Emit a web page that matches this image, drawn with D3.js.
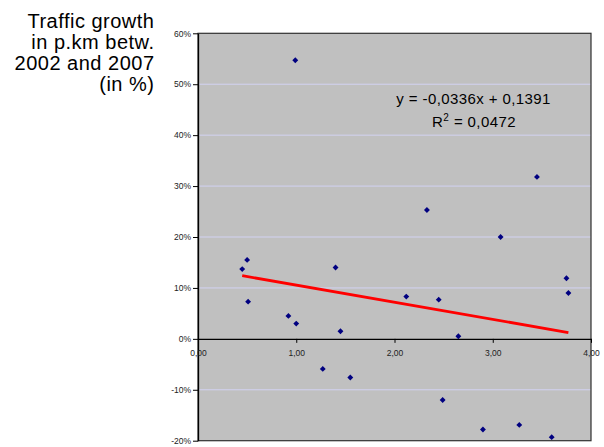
<!DOCTYPE html>
<html>
<head>
<meta charset="utf-8">
<script src="https://cdn.jsdelivr.net/npm/d3@7"></script>
<style>
  html, body { margin: 0; padding: 0; background: #ffffff; }
  svg { display: block; }
  text { font-family: Arial, "Liberation Sans", sans-serif; }
</style>
</head>
<body>
<svg id="chart" width="604" height="447"></svg>
<script>
// Line density (x) against traffic growth 2002-2007 (y, as a fraction)
const densityValues = [0.45, 0.50, 0.51, 0.92, 0.99, 1.00, 1.27, 1.40, 1.45, 1.55, 2.12,
                       2.33, 2.45, 2.49, 2.65, 2.90, 3.08, 3.27, 3.45, 3.60, 3.75, 3.77];
const growthValues  = [0.137, 0.155, 0.073, 0.045, 0.547, 0.030, -0.059, 0.140, 0.015, -0.076, 0.083,
                       0.253, 0.077, -0.120, 0.005, -0.178, 0.200, -0.169, 0.318, -0.193, 0.119, 0.090];

// Linear trend shown on the chart
const trendSlope = -0.0336;
const trendIntercept = 0.1391;
const trendR2 = 0.0472;

const xTicks = [0, 1, 2, 3, 4];
const yTicks = [-0.2, -0.1, 0, 0.1, 0.2, 0.3, 0.4, 0.5, 0.6];
const titleLines = ["Traffic growth", "in p.km betw.", "2002 and 2007", "(in %)"];

const svg = d3.select("#chart");

const plotLeft = 198, plotRight = 591, plotTop = 33.3, plotBottom = 440.7;
const x = d3.scaleLinear().domain([0, 4]).range([plotLeft, plotRight]);
const y = d3.scaleLinear().domain([-0.2, 0.6]).range([plotBottom, plotTop]);

// Comma decimals and a plain hyphen for negatives
const locale = d3.formatLocale({ decimal: ",", thousands: ".", grouping: [3], currency: ["", " €"], minus: "-" });
const fmtX = locale.format(".2f");
const fmtY = locale.format(".0%");
const fmtCoef = v => locale.format(".4f")(v);

// Plot area
svg.append("rect")
  .attr("x", plotLeft).attr("y", plotTop)
  .attr("width", plotRight - plotLeft).attr("height", plotBottom - plotTop)
  .attr("fill", "#c0c0c0");

// Horizontal gridlines
svg.append("g")
  .selectAll("line")
  .data(yTicks.filter(t => t !== 0 && t !== 0.6 && t !== -0.2))
  .join("line")
  .attr("x1", plotLeft).attr("x2", plotRight)
  .attr("y1", d => y(d)).attr("y2", d => y(d))
  .attr("stroke", "#d2d2f2")
  .attr("stroke-width", 1);

// Plot border
svg.append("rect")
  .attr("x", plotLeft).attr("y", plotTop)
  .attr("width", plotRight - plotLeft).attr("height", plotBottom - plotTop)
  .attr("fill", "none")
  .attr("stroke", "#303030")
  .attr("stroke-width", 1.2);

// Y axis
const yAxis = svg.append("g")
  .attr("transform", `translate(${plotLeft},0)`)
  .call(d3.axisLeft(y).tickValues(yTicks).tickFormat(fmtY).tickSize(5).tickPadding(2).tickSizeOuter(0));
yAxis.select(".domain").attr("stroke", "#000").attr("stroke-width", 1.3);
yAxis.selectAll(".tick line").attr("stroke", "#000");
yAxis.selectAll("text").attr("font-size", "8.5px").attr("fill", "#222")
  .attr("font-family", "Arial, 'Liberation Sans', sans-serif");

// X axis crossing at zero growth
const xAxis = svg.append("g")
  .attr("transform", `translate(0,${y(0)})`)
  .call(d3.axisBottom(x).tickValues(xTicks).tickFormat(fmtX).tickSize(4).tickPadding(7).tickSizeOuter(0));
xAxis.select(".domain").attr("stroke", "#000").attr("stroke-width", 1.3);
xAxis.selectAll(".tick line").attr("stroke", "#000");
xAxis.selectAll("text").attr("font-size", "8.5px").attr("fill", "#222")
  .attr("font-family", "Arial, 'Liberation Sans', sans-serif");

// Trend line over the range of the data
const xMin = d3.min(densityValues), xMax = d3.max(densityValues);
svg.append("line")
  .attr("x1", x(xMin)).attr("y1", y(trendSlope * xMin + trendIntercept))
  .attr("x2", x(xMax)).attr("y2", y(trendSlope * xMax + trendIntercept))
  .attr("stroke", "#ff0000")
  .attr("stroke-width", 2.8);

// Data points (square diamonds)
const diamond = d3.symbol().type(d3.symbolDiamond2).size(22);
svg.append("g")
  .selectAll("path")
  .data(densityValues.map((d, i) => [d, growthValues[i]]))
  .join("path")
  .attr("d", diamond)
  .attr("transform", d => `translate(${x(d[0])},${y(d[1])})`)
  .attr("fill", "#000080");

// Trend equation
const eq = svg.append("g").attr("font-size", "15px").attr("fill", "#000").attr("text-anchor", "middle");
eq.append("text")
  .attr("x", 473.5).attr("y", 104)
  .attr("letter-spacing", "0.4px")
  .text(`y = ${fmtCoef(trendSlope)}x + ${fmtCoef(trendIntercept)}`);
const r2 = eq.append("text").attr("x", 474).attr("y", 127.3).attr("letter-spacing", "0.4px");
r2.append("tspan").text("R");
r2.append("tspan").attr("font-size", "10px").attr("dy", -6).text("2");
r2.append("tspan").attr("dy", 6).text(` = ${fmtCoef(trendR2)}`);

// Y axis title
const title = svg.append("text")
  .attr("text-anchor", "end")
  .attr("font-size", "20px")
  .attr("letter-spacing", "0.5px")
  .attr("fill", "#000");
titleLines.forEach((line, i) => {
  title.append("tspan").attr("x", 154.5).attr("y", 27.5 + i * 21).text(line);
});
</script>
</body>
</html>
